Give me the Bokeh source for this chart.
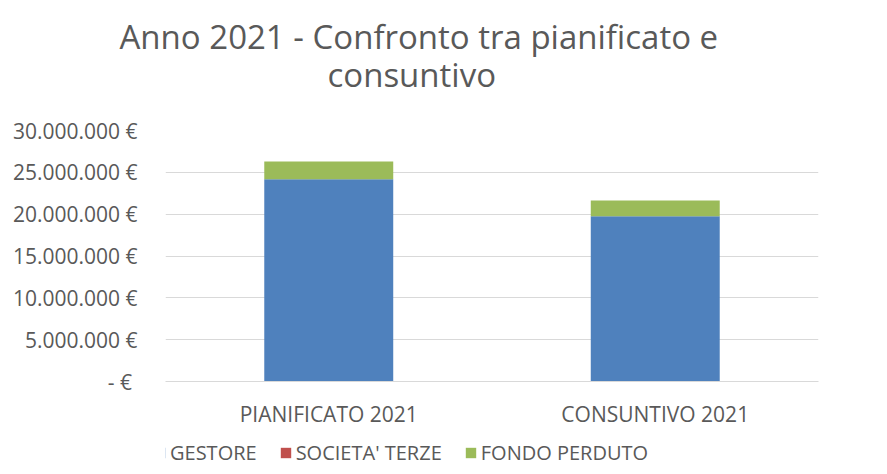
from bokeh.plotting import figure
from bokeh.layouts import column
from bokeh.models import FactorRange, Range1d, Title, Legend, LegendItem, CustomJSTickFormatter, ColumnDataSource
from bokeh.embed import file_html
from bokeh.resources import INLINE

categories = ["PIANIFICATO 2021", "CONSUNTIVO 2021"]
series = ["GESTORE", "SOCIETA' TERZE", "FONDO PERDUTO"]
gestore = [24180000, 19760000]
societa_terze = [0, 0]
fondo_perduto = [2120000, 1880000]
colors = ["#4f81bd", "#c0504d", "#9bbb59"]

FONT = "Open Sans"
GREY = "#595959"

src = ColumnDataSource(dict(cat=categories, g=gestore, s=societa_terze, f=fondo_perduto))

p = figure(frame_width=653, frame_height=251, x_range=FactorRange(*categories, range_padding=0),
           y_range=Range1d(0, 30000000), output_backend="svg", toolbar_location=None,
           title=None, min_border_left=165, min_border_right=61, min_border_bottom=55,
           min_border_top=130)

r = p.vbar_stack(["g", "s", "f"], x="cat", width=0.395, color=colors, line_color=None, source=src)

p.outline_line_color = None
p.xgrid.grid_line_color = None
p.ygrid.grid_line_color = "#d9d9d9"
p.ygrid.grid_line_width = 1

p.yaxis.ticker = [0, 5000000, 10000000, 15000000, 20000000, 25000000, 30000000]
p.yaxis.formatter = CustomJSTickFormatter(code="""
if (tick == 0) { return "-  \u20ac"; }
return Math.round(tick).toString().replace(/\\B(?=(\\d{3})+(?!\\d))/g, ".") + " \u20ac";
""")
p.yaxis.axis_line_color = None
p.yaxis.major_tick_line_color = None
p.yaxis.minor_tick_line_color = None
p.yaxis.major_label_text_font = FONT
p.yaxis.major_label_text_font_size = "21px"
p.yaxis.major_label_text_color = GREY
p.yaxis.major_label_standoff = 22

p.xaxis.axis_line_color = "#d9d9d9"
p.xaxis.major_tick_line_color = None
p.xaxis.minor_tick_line_color = None
p.xaxis.major_label_text_font = FONT
p.xaxis.major_label_text_font_size = "21px"
p.xaxis.major_label_text_color = GREY
p.xaxis.major_label_standoff = 12

spacer = Title(text=" ", text_font_size="20px", standoff=18)
t2 = Title(text="consuntivo", align="left", offset=162, text_font=FONT,
           text_font_size="33px", text_font_style="normal", text_color=GREY, standoff=-17)
t1 = Title(text="Anno 2021 - Confronto tra pianificato e", align="left", offset=-46,
           text_font=FONT, text_font_size="33px", text_font_style="normal", text_color=GREY,
           standoff=0)
p.add_layout(spacer, "above")
p.add_layout(t2, "above")
p.add_layout(t1, "above")

# legend strip: same series drawn far outside its visible range, used only for the swatches
p2 = figure(width=871, height=30, x_range=FactorRange(*categories), y_range=Range1d(1e9, 2e9),
            output_backend="svg", toolbar_location=None, min_border=0)
r2 = p2.vbar_stack(["g", "s", "f"], x="cat", width=0.395, color=colors, line_color=None, source=src)
p2.axis.visible = False
p2.grid.grid_line_color = None
p2.outline_line_color = None
legend = Legend(items=[LegendItem(label=series[i], renderers=[r2[i]]) for i in range(3)],
                orientation="horizontal", location=(-12, 0),
                label_text_font=FONT, label_text_font_size="20px", label_text_color=GREY,
                glyph_width=13, glyph_height=13, spacing=22, label_standoff=4,
                border_line_color=None, background_fill_alpha=0, padding=0, margin=0)
p2.add_layout(legend, "center")

open("out.html", "w").write(file_html(column(p, p2), INLINE))
